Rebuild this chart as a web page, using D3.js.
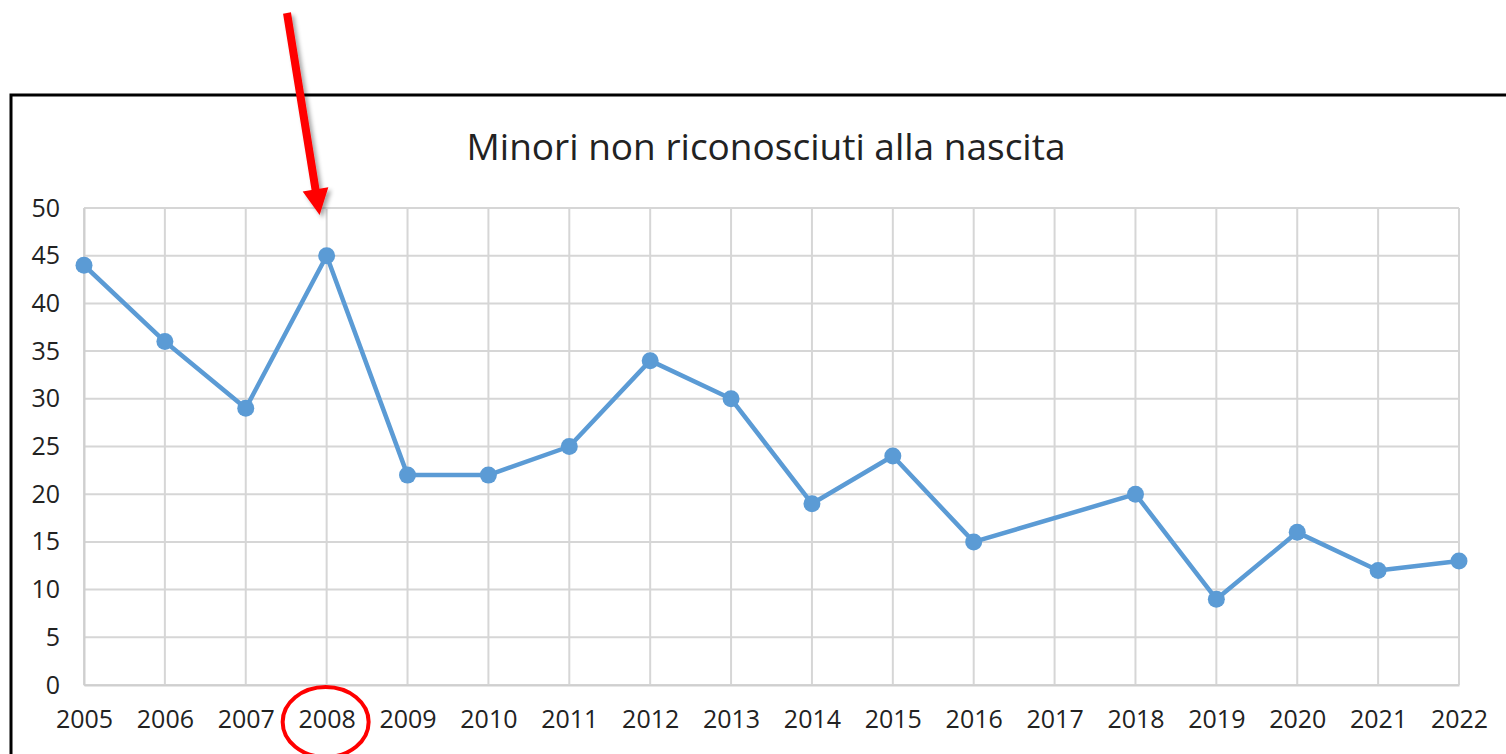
<!DOCTYPE html>
<html>
<head>
<meta charset="utf-8">
<script src="https://cdn.jsdelivr.net/npm/d3@7"></script>
<style>
  html, body { margin: 0; padding: 0; background: #fff; }
  svg { display: block; }
  text { font-family: "Open Sans", "DejaVu Sans", sans-serif; fill: #222; }
</style>
</head>
<body>
<svg id="chart" width="1506" height="754"></svg>
<script>
const title = "Minori non riconosciuti alla nascita";
const years = ["2005","2006","2007","2008","2009","2010","2011","2012","2013","2014","2015","2016","2017","2018","2019","2020","2021","2022"];
const values = [44, 36, 29, 45, 22, 22, 25, 34, 30, 19, 24, 15, null, 20, 9, 16, 12, 13];
const yTicks = [0, 5, 10, 15, 20, 25, 30, 35, 40, 45, 50];
const highlightYear = "2008";

const svg = d3.select("#chart");
const W = 1506, H = 754;
const plot = { left: 84, right: 1459, top: 208, bottom: 685 };

// frame
svg.append("rect")
  .attr("x", 11).attr("y", 95)
  .attr("width", W + 20).attr("height", H)
  .attr("fill", "none").attr("stroke", "#000").attr("stroke-width", 3);

// title
svg.append("text")
  .attr("x", 766).attr("y", 160)
  .attr("text-anchor", "middle")
  .attr("font-size", 37)
  .attr("fill", "#111")
  .text(title);

const x = d3.scalePoint().domain(years).range([plot.left, plot.right]);
const y = d3.scaleLinear().domain([0, 50]).range([plot.bottom, plot.top]);

// gridlines
const grid = svg.append("g");
grid.selectAll("line.h").data(yTicks).join("line")
  .attr("x1", plot.left).attr("x2", plot.right)
  .attr("y1", d => y(d)).attr("y2", d => y(d))
  .attr("stroke", "#d6d6d6").attr("stroke-width", 2);
grid.selectAll("line.v").data(years).join("line")
  .attr("x1", d => x(d)).attr("x2", d => x(d))
  .attr("y1", plot.top).attr("y2", plot.bottom)
  .attr("stroke", "#d6d6d6").attr("stroke-width", 2);

// axes
const yAxis = svg.append("g")
  .attr("transform", `translate(${plot.left},0)`)
  .call(d3.axisLeft(y).tickValues(yTicks).tickSize(0).tickPadding(24));
yAxis.select(".domain").attr("stroke", "#cfcfcf").attr("stroke-width", 2);
yAxis.selectAll("text").attr("font-size", 25).attr("fill", "#1a1a1a")
  .attr("font-family", '"Open Sans", sans-serif');

const xAxis = svg.append("g")
  .attr("transform", `translate(0,${plot.bottom})`)
  .call(d3.axisBottom(x).tickSize(0).tickPadding(25));
xAxis.select(".domain").attr("stroke", "#cfcfcf").attr("stroke-width", 2);
xAxis.selectAll("text").attr("font-size", 25).attr("fill", "#1a1a1a")
  .attr("font-family", '"Open Sans", sans-serif');

// series
const pts = years.map((yr, i) => ({ yr, v: values[i] })).filter(d => d.v !== null);
const line = d3.line().x(d => x(d.yr)).y(d => y(d.v));
svg.append("path")
  .datum(pts)
  .attr("d", line)
  .attr("fill", "none")
  .attr("stroke", "#5b9bd5")
  .attr("stroke-width", 4.5)
  .attr("stroke-linejoin", "round");
svg.selectAll("circle.pt").data(pts).join("circle")
  .attr("class", "pt")
  .attr("cx", d => x(d.yr)).attr("cy", d => y(d.v))
  .attr("r", 8.5)
  .attr("fill", "#5b9bd5");

// annotation: red arrow and ellipse around highlighted year
const defs = svg.append("defs");
const f = defs.append("filter").attr("id", "shadow").attr("x", "-50%").attr("y", "-50%").attr("width", "200%").attr("height", "200%");
f.append("feDropShadow").attr("dx", 3).attr("dy", 3).attr("stdDeviation", 2).attr("flood-color", "#000").attr("flood-opacity", 0.35);

const hx = x(highlightYear);
const tip = [hx - 7, 215];
const start = [287, 13];
const ang = Math.atan2(tip[1] - start[1], tip[0] - start[0]);
const headLen = 26, headHalf = 13, shaftHalf = 4;
const ux = Math.cos(ang), uy = Math.sin(ang), nx = -uy, ny = ux;
const base = [tip[0] - ux * headLen, tip[1] - uy * headLen];
const arrowPts = [
  [start[0] + nx * shaftHalf, start[1] + ny * shaftHalf],
  [base[0] + nx * shaftHalf, base[1] + ny * shaftHalf],
  [base[0] + nx * headHalf, base[1] + ny * headHalf],
  tip,
  [base[0] - nx * headHalf, base[1] - ny * headHalf],
  [base[0] - nx * shaftHalf, base[1] - ny * shaftHalf],
  [start[0] - nx * shaftHalf, start[1] - ny * shaftHalf]
];
svg.append("polygon")
  .attr("points", arrowPts.map(p => p.join(",")).join(" "))
  .attr("fill", "#ff0000")
  .attr("filter", "url(#shadow)");

svg.append("ellipse")
  .attr("cx", hx - 1).attr("cy", 722)
  .attr("rx", 43).attr("ry", 35)
  .attr("fill", "none").attr("stroke", "#ff0000").attr("stroke-width", 4);
</script>
</body>
</html>
